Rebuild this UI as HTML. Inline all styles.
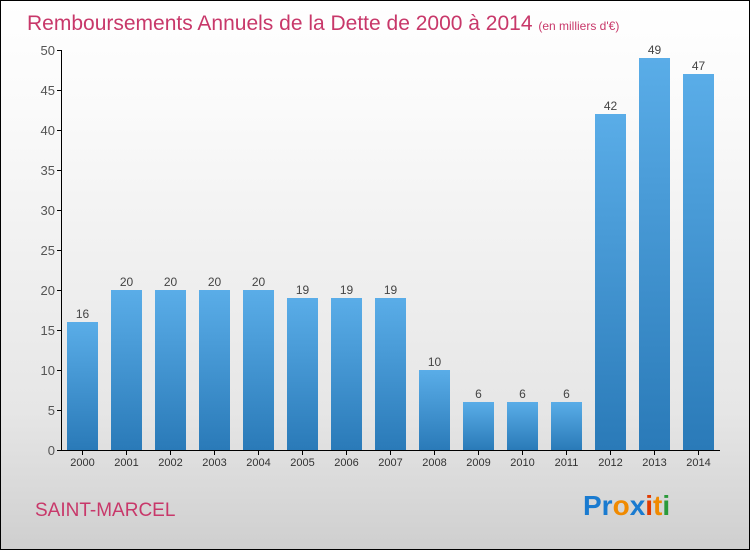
<!DOCTYPE html>
<html><head><meta charset="utf-8"><style>
body{margin:0}
#c{width:750px;height:550px;position:relative;box-sizing:border-box;border:1px solid #000;background:linear-gradient(#fff,#fafafa 20%,#e6e6e6 75%,#cfcfcf);font-family:"Liberation Sans",sans-serif;overflow:hidden}
</style></head><body>
<div id="c">
<svg id="s" width="750" height="550" style="position:absolute;left:-1px;top:-1px">
<defs><linearGradient id="g" x1="0" y1="0" x2="0" y2="1"><stop offset="0" stop-color="#5aade8"/><stop offset="1" stop-color="#2a7ab8"/></linearGradient></defs>
<text x="27" y="30" font-size="21" fill="#c8386a">Remboursements Annuels de la Dette de 2000 à 2014 <tspan font-size="12">(en milliers d'€)</tspan></text>
<text x="35" y="516" font-size="19" fill="#c8386a">SAINT-MARCEL</text>
<g font-size="28" font-weight="bold">
<text x="583" y="515"><tspan fill="#1a7bd0">Pr</tspan><tspan fill="#f08a00">o</tspan><tspan fill="#1a7bd0">x</tspan><tspan fill="#e03a00">i</tspan><tspan fill="#f08a00">t</tspan><tspan fill="#2a9a3a">i</tspan></text></g>
<g id="plot"></g>
</svg>
</div>
<script>
const categories=["2000","2001","2002","2003","2004","2005","2006","2007","2008","2009","2010","2011","2012","2013","2014"];
const values=[16,20,20,20,20,19,19,19,10,6,6,6,42,49,47];
const yTicks=[0,5,10,15,20,25,30,35,40,45,50];
const NS="http://www.w3.org/2000/svg";
const g=document.getElementById('plot');
const y=v=>450-v*8;
const x=i=>67+i*44;
function el(t,a,txt){const e=document.createElementNS(NS,t);for(const k in a)e.setAttribute(k,a[k]);if(txt!=null)e.textContent=txt;g.appendChild(e);return e;}
yTicks.forEach(t=>{
const l=el('line',{x1:57,x2:62,y1:y(t)+.5,y2:y(t)+.5,stroke:'#000'});


const tx=el('text',{x:55,y:y(t)+5,'text-anchor':'end','font-size':13,fill:'#555'},t);


});
values.forEach((v,i)=>{
const r=el('rect',{x:x(i),y:y(v),width:31,height:450-y(v),fill:'url(#g)'});


const t=el('text',{x:x(i)+15.5,y:y(v)-4,'text-anchor':'middle','font-size':12,fill:'#444'},v);


const tk=el('line',{x1:x(i)+15.5,x2:x(i)+15.5,y1:450,y2:455,stroke:'#000'});


const c=el('text',{x:x(i)+15.5,y:466,'text-anchor':'middle','font-size':11,fill:'#333'},categories[i]);


});
const ya=el('line',{x1:61.5,x2:61.5,y1:50,y2:450,stroke:'#000'});


const xa=el('line',{x1:61,x2:720,y1:450.5,y2:450.5,stroke:'#000'});


</script>
</body></html>
